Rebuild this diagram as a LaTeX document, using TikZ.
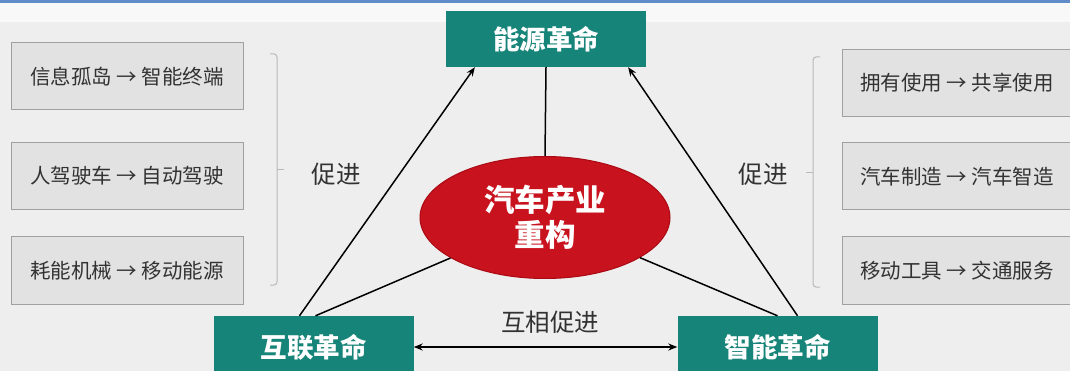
\documentclass[tikz,border=0pt]{standalone}
\usepackage{fontspec}
\setmainfont{Noto Sans CJK SC}
\usetikzlibrary{arrows.meta,shapes.geometric,calc}
\definecolor{bg}{RGB}{238,238,238}
\definecolor{teal1}{RGB}{22,132,120}
\definecolor{redc}{RGB}{200,18,30}
\definecolor{redb}{RGB}{170,10,20}
\definecolor{boxf}{RGB}{226,226,226}
\definecolor{boxd}{RGB}{160,160,160}
\definecolor{txt}{RGB}{50,50,50}
\definecolor{topblue}{RGB}{95,140,200}
\tikzset{
  greybox/.style={draw=boxd, line width=1pt, fill=boxf, minimum width=232pt, minimum height=67pt, inner sep=0pt, text=txt, font=\fontsize{20.5}{22}\selectfont},
  tealbox/.style={fill=teal1, minimum width=200pt, minimum height=56pt, inner sep=0pt, text=white, font=\bfseries\fontsize{26.5}{30}\selectfont},
  conn/.style={line width=1.5pt, black},
  arr/.style={conn, -{Stealth[length=9pt,width=7pt]}},
  bracket/.style={draw=gray!55, line width=1pt, rounded corners=3pt},
  lbl/.style={text=txt, font=\fontsize{24.5}{26}\selectfont, inner sep=0pt}
}
\begin{document}
\begin{tikzpicture}[x=1pt,y=-1pt]
\useasboundingbox (0,0) rectangle (1070,371);
\clip (0,0) rectangle (1070,371);
\fill[bg] (0,0) rectangle (1070,371);
\fill[topblue] (0,0) rectangle (1070,3);
\fill[white!60!bg] (0,3) rectangle (1070,22);
% left boxes
\node[greybox] (l1) at (127,76.5) {信息孤岛 → 智能终端};
\node[greybox] (l2) at (127,176) {人驾驶车 → 自动驾驶};
\node[greybox] (l3) at (127,270.5) {耗能机械 → 移动能源};
% right boxes
\node[greybox, minimum width=230pt] (r1) at (957,83) {拥有使用 → 共享使用};
\node[greybox, minimum width=230pt] (r2) at (957,176.5) {汽车制造 → 汽车智造};
\node[greybox, minimum width=230pt] (r3) at (957,270.5) {移动工具 → 交通服务};
% brackets
\draw[bracket] (270,54) -- (277,54) -- (277,285) -- (270,285);
\draw[bracket] (277,170) -- (284,170);
\node[lbl] (pl) at (336,174) {促进};
\draw[bracket] (820,57) -- (813,57) -- (813,287) -- (820,287);
\draw[bracket] (813,173) -- (806,173);
\node[lbl] (pr) at (763,174) {促进};
% teal boxes
\node[tealbox] (te) at (546,39) {能源革命};
\node[tealbox, minimum height=62pt] (hl) at (313.5,347) {互联革命};
\node[tealbox, minimum height=62pt] (hr) at (777.5,347) {智能革命};
% ellipse
\node[ellipse, fill=redc, draw=redb, line width=1pt, minimum width=250pt, minimum height=122pt, inner sep=0pt, text=white, align=center, font=\bfseries\fontsize{30.5}{35}\selectfont] (ell) at (545,217.5) {汽车产业\\重构};
% connectors
\coordinate (a1) at ($(hl.north west)!0.43!(hl.north east)$);
\coordinate (a2) at ($(te.south west)!0.145!(te.south east)$);
\coordinate (b1) at ($(hr.north west)!0.6!(hr.north east)$);
\coordinate (b2) at ($(te.south west)!0.91!(te.south east)$);
\coordinate (c1) at ($(hl.north west)!0.51!(hl.north east)$);
\coordinate (c2) at ($(hr.north west)!0.5!(hr.north east)$);
\draw[arr] (a1) -- (a2);
\draw[arr] (b1) -- (b2);
\draw[conn] (te.south) -- (ell.north);
\draw[conn] (c1) -- (ell);
\draw[conn] (c2) -- (ell);
\draw[conn, {Stealth[length=9pt,width=7pt]}-{Stealth[length=9pt,width=7pt]}] (hl.east) -- (hr.west);
\node[lbl] (hx) at (550,322) {互相促进};
\end{tikzpicture}
\end{document}
